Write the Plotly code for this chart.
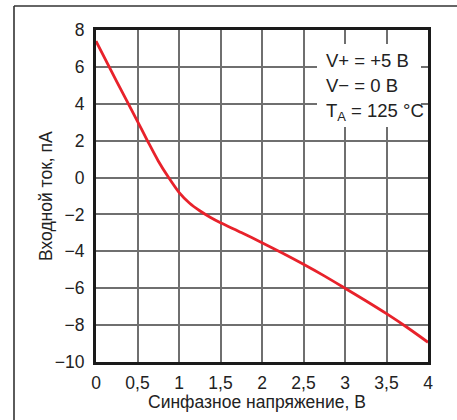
import plotly.graph_objects as go

# Data
voltage = [0.0, 0.25, 0.5, 0.625, 0.75, 0.875, 1.0, 1.125, 1.25, 1.375, 1.5, 1.75, 2.0, 2.25, 2.5, 2.75, 3.0, 3.25, 3.5, 3.75, 4.0]
current = [7.4, 5.2, 3.05, 1.95, 0.9, 0.0, -0.8, -1.38, -1.8, -2.15, -2.45, -2.98, -3.53, -4.1, -4.7, -5.33, -6.0, -6.68, -7.38, -8.13, -8.93]

x_tickvals = [0, 0.5, 1, 1.5, 2, 2.5, 3, 3.5, 4]
x_ticktext = ["0", "0,5", "1", "1,5", "2", "2,5", "3", "3,5", "4"]
y_tickvals = [-10, -8, -6, -4, -2, 0, 2, 4, 6, 8]
y_ticktext = ["\u221210", "\u22128", "\u22126", "\u22124", "\u22122", "0", "2", "4", "6", "8"]

x_title = "Синфазное напряжение, В"
y_title = "Входной ток, пА"
cond_lines = ["V+ = +5 В", "V\u2212 = 0 В", "T<sub>A</sub> = 125 °C"]

FONT = "Liberation Sans"
TXT = "#222222"
W, H = 457, 420
# paper (outer frame) starts at pixel (14, 6) and runs to the page edges
FL, FT = 14, 6
FW, FH = W - FL, H - FT

def px_x(p):
    return (p - FL) / FW

def px_y(p):
    return (H - p) / FH

fig = go.Figure()
fig.add_trace(go.Scatter(
    x=voltage, y=current, mode="lines",
    line=dict(color="#e8222b", width=2.8, shape="spline", smoothing=0.8),
    hoverinfo="skip", showlegend=False,
))

axis_common = dict(
    showgrid=True, gridcolor="#6f6f6f", gridwidth=1.6,
    showline=True, linecolor="#1a1a1a", linewidth=3, mirror=True,
    zeroline=False, ticks="", automargin=False,
    tickfont=dict(family=FONT, size=17.5, color=TXT),
)

fig.update_xaxes(range=[0, 4], tickvals=x_tickvals, ticktext=x_ticktext,
                 domain=[px_x(96), px_x(428)],
                 ticklabelstandoff=3, **axis_common)
fig.update_yaxes(range=[-10, 8], tickvals=y_tickvals, ticktext=y_ticktext,
                 domain=[px_y(362), px_y(30)],
                 ticklabelstandoff=5, **axis_common)

shapes = [
    # white box behind the conditions text
    dict(type="rect", xref="paper", yref="paper",
         x0=px_x(317), x1=px_x(421), y0=px_y(127), y1=px_y(44),
         fillcolor="white", line=dict(width=0), layer="above"),
    # outer frame: top and left edges
    dict(type="line", xref="paper", yref="paper", x0=0, x1=1, y0=1, y1=1,
         line=dict(color="#333333", width=1.6)),
    dict(type="line", xref="paper", yref="paper", x0=0, x1=0, y0=0, y1=1,
         line=dict(color="#333333", width=1.6)),
]

annotations = []
for i, t in enumerate(cond_lines):
    annotations.append(dict(
        xref="paper", yref="paper", x=px_x(324), y=px_y(60 + 26 * i),
        xanchor="left", yanchor="middle", text=t, showarrow=False,
        font=dict(family=FONT, size=18.5, color=TXT),
    ))
# axis titles
annotations.append(dict(
    xref="paper", yref="paper", x=px_x(257), y=px_y(402),
    xanchor="center", yanchor="middle", text=x_title, showarrow=False,
    font=dict(family=FONT, size=17.5, color=TXT),
))
annotations.append(dict(
    xref="paper", yref="paper", x=px_x(46), y=px_y(196),
    xanchor="center", yanchor="middle", text=y_title, showarrow=False,
    textangle=-90, font=dict(family=FONT, size=17.5, color=TXT),
))

fig.update_layout(
    width=W, height=H,
    margin=dict(l=FL, r=0, t=FT, b=0, pad=0),
    paper_bgcolor="white", plot_bgcolor="white",
    shapes=shapes, annotations=annotations,
)

fig.write_html("out.html", config={"displayModeBar": False},
               post_script="document.body.style.margin='0';document.body.style.padding='0';")
